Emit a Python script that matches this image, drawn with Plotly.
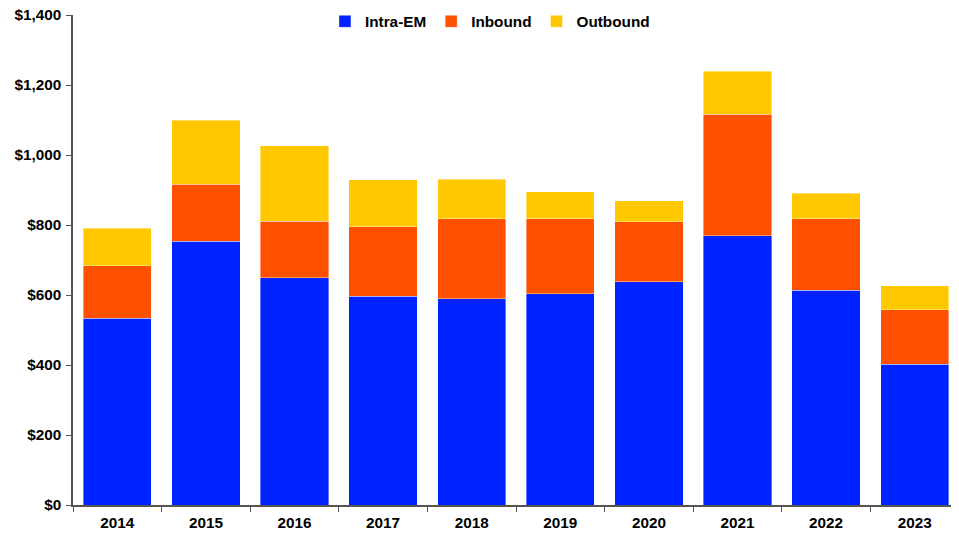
import plotly.graph_objects as go

years = ["2014", "2015", "2016", "2017", "2018", "2019", "2020", "2021", "2022", "2023"]
intra_em = [534, 754, 649, 597, 589, 604, 638, 770, 614, 402]
inbound = [149, 163, 162, 198, 229, 214, 172, 347, 204, 156]
outbound = [108, 183, 215, 134, 113, 77, 60, 123, 73, 68]

colors = {"Intra-EM": "#0022FF", "Inbound": "#FF5000", "Outbound": "#FFC800"}

fig = go.Figure()
for name, vals in [("Intra-EM", intra_em), ("Inbound", inbound), ("Outbound", outbound)]:
    fig.add_trace(go.Bar(
        x=years, y=vals, name=name,
        marker=dict(color=colors[name], line=dict(color="rgba(255,255,255,0.5)", width=0.8)),
    ))

FS = 15.3
# page body has an 8px default margin; compensate so the plot sits where the reference does
fig.update_layout(
    barmode="stack",
    bargap=0.23,
    width=951, height=525,
    margin=dict(l=65, r=0, t=7, b=28, autoexpand=False),
    plot_bgcolor="white", paper_bgcolor="white",
    font=dict(family="Liberation Sans, Arial, sans-serif", color="#000000", size=FS),
    showlegend=True,
    legend=dict(orientation="h", x=0.2844, xanchor="left", y=0.987, yanchor="middle",
                font=dict(size=FS, family="Liberation Sans, Arial, sans-serif", weight="bold"),
                itemwidth=30, traceorder="normal", bgcolor="rgba(0,0,0,0)"),
)
fig.update_xaxes(
    showline=True, linecolor="#555555", linewidth=1.5,
    ticks="outside", tickson="boundaries", ticklen=5, tickcolor="#555555",
    tickfont=dict(size=FS, weight="bold"), showgrid=False, automargin=False,
    ticklabelstandoff=3, ticklabeloverflow="allow",
)
fig.update_yaxes(
    range=[0, 1400], dtick=200, tickprefix="$", tickformat=",d",
    showline=True, linecolor="#555555", linewidth=1.5,
    ticks="outside", ticklen=5, tickcolor="#555555",
    tickfont=dict(size=FS, weight="bold"), showgrid=False, zeroline=False, automargin=False,
    ticklabelstandoff=2, ticklabeloverflow="allow",
)
fig.write_html("out.html")
